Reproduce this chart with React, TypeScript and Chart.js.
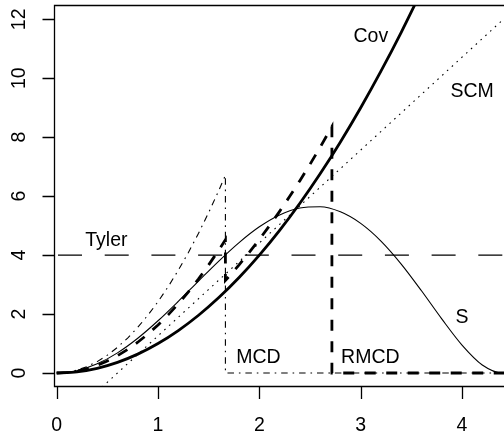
import React, { useEffect, useRef } from 'react';
import { Chart, registerables } from 'chart.js';
Chart.register(...registerables);

// ---- data ----
const covX = [0, 0.2, 0.4, 0.6, 0.8, 1.0, 1.2, 1.4, 1.6, 1.8, 2.0, 2.2, 2.4, 2.6, 2.8, 3.0, 3.2, 3.4, 3.6];
const covY = [0, 0.04, 0.16, 0.36, 0.64, 1.0, 1.44, 1.96, 2.56, 3.24, 4.0, 4.84, 5.76, 6.76, 7.84, 9.0, 10.24, 11.56, 12.96];

const scmX = [0.4, 4.5];
const scmY = [-0.63, 12.29];

const tylerX = [0.013, 4.5];
const tylerY = [4, 4];

const mcdX = [0, 0.1, 0.2, 0.3, 0.4, 0.5, 0.6, 0.7, 0.8, 0.9, 1.0, 1.1, 1.2, 1.3, 1.4, 1.5, 1.6, 1.665, 1.665, 4.5];
const mcdY = [0, 0.024, 0.097, 0.218, 0.387, 0.605, 0.871, 1.186, 1.549, 1.96, 2.42, 2.928, 3.485, 4.09, 4.743, 5.445, 6.195, 6.709, 0, 0];

const rmcdX = [0, 0.1, 0.2, 0.3, 0.4, 0.5, 0.6, 0.7, 0.8, 0.9, 1.0, 1.1, 1.2, 1.3, 1.4, 1.5, 1.6, 1.665, 1.665,
  1.7, 1.8, 1.9, 2.0, 2.1, 2.2, 2.3, 2.4, 2.5, 2.6, 2.7, 2.716, 2.716, 4.5];
const rmcdY = [0, 0.016, 0.065, 0.147, 0.261, 0.408, 0.587, 0.799, 1.043, 1.32, 1.63, 1.972, 2.347, 2.755, 3.195, 3.668, 4.173, 4.519, 3.141,
  3.274, 3.671, 4.09, 4.532, 4.997, 5.484, 5.994, 6.526, 7.081, 7.659, 8.26, 8.358, 0, 0];

const sX = [0, 0.2, 0.4, 0.6, 0.8, 1.0, 1.2, 1.4, 1.6, 1.8, 2.0, 2.2, 2.4, 2.6, 2.8, 3.0, 3.2, 3.4, 3.6, 3.8, 4.0, 4.2, 4.4, 4.5];
const sY = [0, 0.079, 0.31, 0.683, 1.179, 1.772, 2.431, 3.119, 3.798, 4.425, 4.96, 5.363, 5.6, 5.641, 5.469, 5.077, 4.477, 3.697, 2.79, 1.837, 0.949, 0.274, 0, 0];

const xTicks = [0, 1, 2, 3, 4];
const yTicks = [0, 2, 4, 6, 8, 10, 12];

const labelText = ['Cov', 'SCM', 'Tyler', 'MCD', 'RMCD', 'S'];
const labelX = [3.1, 4.1, 0.49, 1.99, 3.095, 4.0];
const labelY = [11.48, 9.61, 4.54, 0.58, 0.56, 1.93];

// ---- styling ----
const FONT_SIZE = 19.5;
const FONT = `${FONT_SIZE}px "Liberation Sans", Arial, Helvetica, sans-serif`;
const CAP = 0.716 * FONT_SIZE;

const xy = (xs: number[], ys: number[]) => xs.map((v, i) => ({ x: v, y: ys[i] }));

const framePlugin = {
  id: 'rframe',
  afterDatasetsDraw(chart: any) {
    const { ctx, chartArea: a, scales } = chart;
    const x = scales.x;
    const y = scales.y;
    ctx.save();
    ctx.strokeStyle = '#000';
    ctx.fillStyle = '#000';
    ctx.lineWidth = 1.3;
    // box (right side lies outside the picture)
    ctx.beginPath();
    ctx.moveTo(a.right + 5, a.top + 0.5);
    ctx.lineTo(a.left + 0.5, a.top + 0.5);
    ctx.lineTo(a.left + 0.5, a.bottom - 0.5);
    ctx.lineTo(a.right + 5, a.bottom - 0.5);
    ctx.stroke();
    // y axis ticks
    ctx.beginPath();
    yTicks.forEach((t) => {
      const py = Math.round(y.getPixelForValue(t)) + 0.5;
      ctx.moveTo(a.left - 11.5, py);
      ctx.lineTo(a.left + 0.5, py);
    });
    // x axis ticks
    xTicks.forEach((t) => {
      const px = Math.round(x.getPixelForValue(t)) + 0.5;
      ctx.moveTo(px, a.bottom - 0.5);
      ctx.lineTo(px, a.bottom + 12);
    });
    ctx.stroke();
    // tick labels
    ctx.font = FONT;
    ctx.textAlign = 'center';
    ctx.textBaseline = 'alphabetic';
    xTicks.forEach((t) => {
      ctx.fillText(String(t), x.getPixelForValue(t), a.bottom + 44);
    });
    yTicks.forEach((t) => {
      ctx.save();
      ctx.translate(a.left - 29.5, y.getPixelForValue(t));
      ctx.rotate(-Math.PI / 2);
      ctx.fillText(String(t), 0, 0);
      ctx.restore();
    });
    // curve labels
    labelText.forEach((s, i) => {
      ctx.fillText(s, x.getPixelForValue(labelX[i]), y.getPixelForValue(labelY[i]) + CAP / 2);
    });
    ctx.restore();
  },
};

export default function App() {
  const ref = useRef<HTMLCanvasElement>(null);
  useEffect(() => {
    const base = { pointRadius: 0, borderColor: '#000', fill: false, tension: 0 };
    const chart = new Chart(ref.current as HTMLCanvasElement, {
      type: 'line',
      data: {
        datasets: [
          { ...base, label: 'Cov', data: xy(covX, covY), borderWidth: 2.8, cubicInterpolationMode: 'monotone' },
          { ...base, label: 'SCM', data: xy(scmX, scmY), borderWidth: 1.1, borderDash: [1.6, 4.9] },
          { ...base, label: 'Tyler', data: xy(tylerX, tylerY), borderWidth: 1.1, borderDash: [24, 22.7] },
          { ...base, label: 'MCD', data: xy(mcdX, mcdY), borderWidth: 1.1, borderDash: [1.6, 4.9, 6.5, 4.9] },
          { ...base, label: 'RMCD', data: xy(rmcdX, rmcdY), borderWidth: 2.8, borderDash: [11, 10.5] },
          { ...base, label: 'S', data: xy(sX, sY), borderWidth: 1.1, cubicInterpolationMode: 'monotone' },
        ] as any,
      },
      options: {
        animation: false,
        responsive: false,
        devicePixelRatio: 1,
        layout: { padding: { left: 54, top: 5, right: 0, bottom: 47 } },
        plugins: { legend: { display: false }, tooltip: { enabled: false } },
        scales: {
          x: { type: 'linear', min: -0.0266, max: 4.4143, display: false },
          y: { type: 'linear', min: -0.475, max: 12.485, display: false },
        },
      } as any,
      plugins: [framePlugin],
    });
    return () => chart.destroy();
  }, []);
  return (
    <div style={{ position: 'fixed', left: 0, top: 0, width: 504, height: 434, background: '#fff' }}>
      <canvas ref={ref} width={504} height={434} style={{ display: 'block', width: 504, height: 434 }} />
    </div>
  );
}
